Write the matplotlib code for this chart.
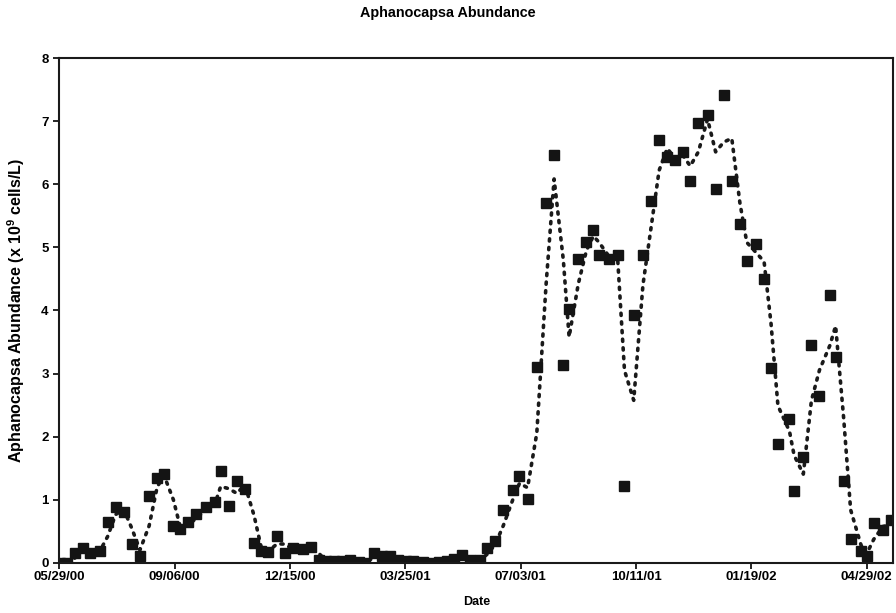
import pandas as pd
import matplotlib
matplotlib.use("Agg")
import matplotlib.pyplot as plt
import matplotlib.dates as mdates

plt.rcParams['font.family'] = ['Liberation Sans', 'DejaVu Sans']
plt.rcParams['mathtext.default'] = 'regular'

# sampling days counted from 05/29/00
days = [1, 7, 14, 21, 27, 35, 42, 49, 56, 63, 70, 78, 85, 91, 99, 105, 112, 119,
        127, 135, 140, 147, 154, 161, 169, 175, 181, 189, 196, 203, 211, 218, 225,
        231, 238, 245, 252, 260, 265, 273, 280, 287, 294, 301, 307, 315, 322, 329,
        336, 342, 349, 356, 365, 371, 378, 385, 393, 399, 406, 414, 422, 429, 437,
        442, 450, 457, 463, 468, 477, 484, 490, 498, 506, 513, 520, 527, 534, 541,
        547, 554, 562, 569, 576, 583, 590, 596, 604, 611, 617, 623, 633, 637, 645,
        652, 659, 668, 673, 680, 686, 695, 700, 706, 714, 721]

# abundance, x 10^9 cells/L
abundance = [0.00, 0.00, 0.16, 0.24, 0.16, 0.19, 0.64, 0.89, 0.80, 0.29, 0.11, 1.06,
             1.35, 1.41, 0.59, 0.54, 0.65, 0.77, 0.89, 0.97, 1.45, 0.90, 1.30, 1.17,
             0.32, 0.19, 0.17, 0.43, 0.16, 0.24, 0.22, 0.25, 0.05, 0.03, 0.02, 0.02,
             0.05, 0.01, 0.00, 0.16, 0.10, 0.10, 0.05, 0.02, 0.02, 0.01, 0.00, 0.01,
             0.03, 0.06, 0.13, 0.05, 0.04, 0.23, 0.35, 0.83, 1.15, 1.37, 1.01, 3.10,
             5.70, 6.47, 3.13, 4.03, 4.82, 5.08, 5.28, 4.88, 4.81, 4.88, 1.22, 3.93,
             4.88, 5.74, 6.70, 6.44, 6.38, 6.52, 6.06, 6.97, 7.10, 5.93, 7.41, 6.05,
             5.37, 4.79, 5.05, 4.50, 3.09, 1.89, 2.28, 1.13, 1.68, 3.46, 2.65, 4.24,
             3.27, 1.30, 0.38, 0.18, 0.11, 0.63, 0.52, 0.68]

start = pd.Timestamp("2000-05-29")
dates = start + pd.to_timedelta(days, unit="D")

df = pd.DataFrame({"date": dates, "abund": abundance})
# 2 period moving average trendline
df["ma"] = df["abund"].rolling(2).mean()

fig = plt.figure(figsize=(8.96, 6.13), dpi=100)
ax = fig.add_axes([0.066, 0.082, 0.931, 0.823])

ax.plot(df["date"], df["ma"], color="#1a1a1a", linestyle=(0, (0.6, 1.8)),
        linewidth=2.6, dash_capstyle="round")
ax.plot(df["date"], df["abund"], linestyle="none", marker="s", markersize=6.5,
        color="#141414")

ax.set_xlim(start, start + pd.Timedelta(days=723))
ax.set_ylim(0, 8)
ticks = [start + pd.Timedelta(days=100 * k) for k in range(8)]
ax.set_xticks(ticks)
ax.xaxis.set_major_formatter(mdates.DateFormatter("%m/%d/%y"))
ax.set_yticks(range(0, 9))

for s in ax.spines.values():
    s.set_linewidth(1.5)
    s.set_color("#1a1a1a")
ax.tick_params(axis="both", direction="out", length=4, width=1.2, labelsize=9.5)
ax.tick_params(axis="x", pad=2)
for lab in ax.get_xticklabels() + ax.get_yticklabels():
    lab.set_fontweight("bold")

ax.set_ylabel("Aphanocapsa Abundance (x 10$^9$ cells/L)", fontsize=11.5,
              fontweight="bold")
ax.yaxis.set_label_coords(-0.039, 0.5)
ax.set_xlabel("Date", fontsize=9, fontweight="bold", labelpad=9)
fig.text(0.5, 0.978, "Aphanocapsa Abundance", ha="center", va="center",
         fontsize=10.4, fontweight="bold")

plt.savefig("out.png", dpi=100)
